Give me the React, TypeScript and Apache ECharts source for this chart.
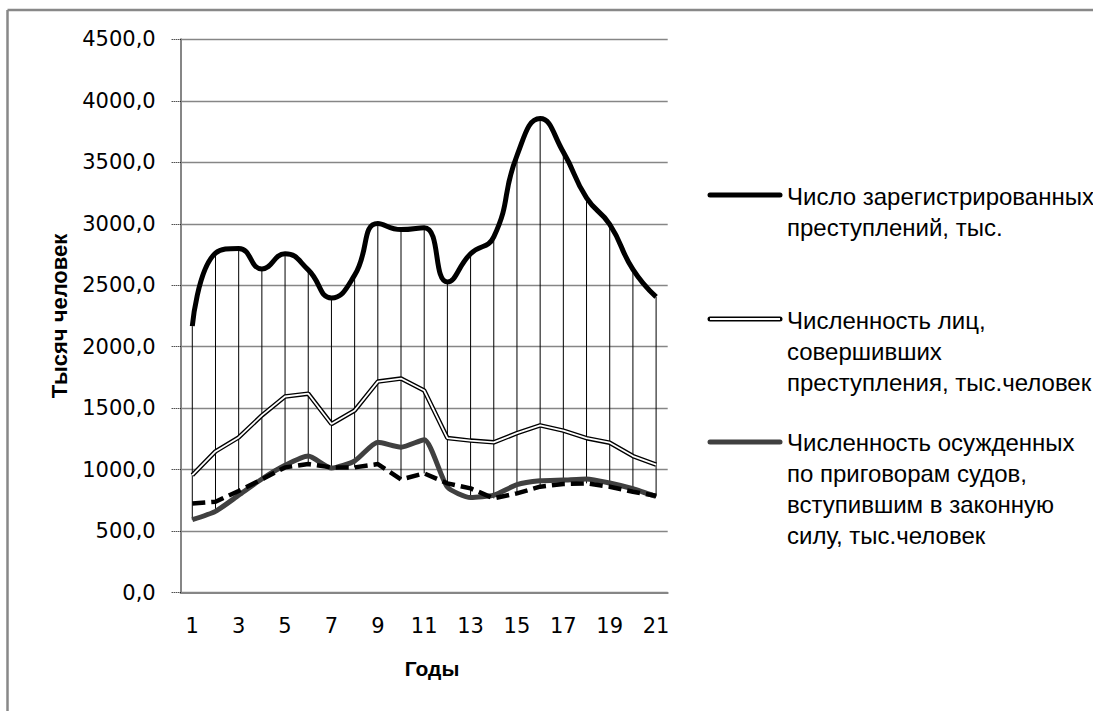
import React, { useEffect, useRef } from "react";
import * as echarts from "echarts";

const categories = ["1","2","3","4","5","6","7","8","9","10","11","12","13","14","15","16","17","18","19","20","21"];

const registeredCrimes = [2167.6, 2760.7, 2799.6, 2632.7, 2755.7, 2625.1, 2397.3, 2581.9, 3001.7, 2952.4, 2968.3, 2526.3, 2756.4, 2893.8, 3554.7, 3855.4, 3582.5, 3209.9, 2994.8, 2628.8, 2404.8];
const personsCommitted = [956.3, 1148.9, 1262.7, 1441.6, 1595.5, 1618.4, 1372.2, 1481.5, 1716.7, 1741.4, 1644.2, 1257.7, 1236.7, 1222.5, 1297.1, 1360.9, 1317.6, 1256.2, 1219.8, 1111.1, 1041.3];
const convicted = [593.8, 661.4, 792.4, 924.6, 1035.8, 1111.1, 1013.4, 1071.1, 1223.3, 1183.6, 1244.2, 859.3, 773.9, 793.9, 878.9, 909.9, 916.3, 925.2, 892.3, 845.1, 782.3];
const dashedSeries = [726, 740, 827, 921, 1019, 1046, 1019, 1019, 1046, 921, 970, 889, 848, 767, 808, 862, 884, 889, 862, 821, 789];

const legendNames = [
  "Число зарегистрированных\nпреступлений, тыс.",
  "Численность лиц,\nсовершивших\nпреступления, тыс.человек",
  "Численность осужденных\nпо приговорам судов,\nвступившим в законную\nсилу, тыс.человек",
];

export default function App() {
  const ref = useRef<HTMLDivElement>(null);
  useEffect(() => {
    if (!ref.current) return;
    const chart = echarts.init(ref.current, null, { renderer: "svg" });
    const all = [registeredCrimes, personsCommitted, convicted, dashedSeries];
    const hiLo = categories.map((_, i) => {
      const vals = all.map((a) => a[i]);
      return [i, Math.min(...vals), Math.max(...vals)];
    });
    const axisFont = { fontFamily: "DejaVu Sans", fontSize: 21, color: "#000" };
    const legendFont = "24px 'Liberation Sans', sans-serif";
    const legendX1 = 710, legendX2 = 780, textX = 787;
    const legendRows = [
      { iconY: 195, top: 181, kind: "black" },
      { iconY: 319, top: 305, kind: "double" },
      { iconY: 442, top: 427, kind: "gray" },
    ];
    const graphics: any[] = [
      {
        type: "line",
        shape: { x1: 7.5, y1: 10, x2: 7.5, y2: 711 },
        style: { stroke: "#888888", lineWidth: 2.5 },
        silent: true,
      },
      {
        type: "line",
        shape: { x1: 7.5, y1: 10, x2: 1093, y2: 10 },
        style: { stroke: "#888888", lineWidth: 2.5 },
        silent: true,
      },
      {
        type: "text",
        x: 59,
        y: 316,
        rotation: Math.PI / 2,
        style: {
          text: "Тысяч человек",
          font: "bold 22px 'Liberation Sans', sans-serif",
          fill: "#000",
          align: "center",
          verticalAlign: "middle",
        },
      },
      {
        type: "text",
        x: 432,
        y: 668,
        style: {
          text: "Годы",
          font: "bold 21px 'Liberation Sans', sans-serif",
          fill: "#000",
          align: "center",
          verticalAlign: "middle",
        },
      },
    ];
    legendRows.forEach((r, i) => {
      if (r.kind === "double") {
        graphics.push({
          type: "line",
          shape: { x1: legendX1, y1: r.iconY, x2: legendX2, y2: r.iconY },
          style: { stroke: "#000", lineWidth: 5, lineCap: "round" },
        });
        graphics.push({
          type: "line",
          shape: { x1: legendX1, y1: r.iconY, x2: legendX2, y2: r.iconY },
          style: { stroke: "#fff", lineWidth: 2 },
        });
      } else {
        graphics.push({
          type: "line",
          shape: { x1: legendX1, y1: r.iconY, x2: legendX2, y2: r.iconY },
          style: { stroke: r.kind === "black" ? "#000" : "#404040", lineWidth: 5, lineCap: "round" },
        });
      }
      graphics.push({
        type: "text",
        x: textX,
        y: r.top,
        style: {
          text: legendNames[i],
          font: legendFont,
          fill: "#000",
          lineHeight: 31,
          verticalAlign: "top",
          align: "left",
        },
      });
    });

    chart.setOption({
      animation: false,
      backgroundColor: "#fff",
      grid: { left: 180.7, right: 425.3, top: 39.3, bottom: 118.3, containLabel: false },
      xAxis: {
        type: "category",
        data: categories,
        boundaryGap: true,
        axisLine: { lineStyle: { color: "#868686", width: 2 } },
        axisTick: { show: false },
        axisLabel: { ...axisFont, interval: 1, margin: 23 },
        splitLine: { show: false },
      },
      yAxis: {
        type: "value",
        min: 0,
        max: 4500,
        interval: 500,
        axisLine: { show: true, lineStyle: { color: "#868686", width: 2 } },
        axisTick: { show: true, length: 9, lineStyle: { color: "#000", type: "dotted", width: 1 } },
        axisLabel: {
          ...axisFont,
          margin: 25,
          formatter: (v: number) => v.toFixed(1).replace(".", ","),
        },
        splitLine: { show: true, lineStyle: { color: "#868686", width: 1.3 } },
      },
      graphic: graphics,
      series: [
        {
          type: "custom",
          z: 1,
          silent: true,
          data: hiLo,
          renderItem: (params: any, api: any) => {
            const p1 = api.coord([api.value(0), api.value(1)]);
            const p2 = api.coord([api.value(0), api.value(2)]);
            return {
              type: "line",
              shape: { x1: p1[0], y1: p1[1], x2: p2[0], y2: p2[1] },
              style: { stroke: "#000", lineWidth: 1 },
            };
          },
        },
        {
          name: legendNames[0],
          type: "line",
          z: 3,
          data: registeredCrimes,
          smooth: 0.5,
          symbol: "none",
          lineStyle: { color: "#000", width: 5 },
        },
        {
          name: legendNames[1],
          type: "line",
          z: 3,
          data: personsCommitted,
          symbol: "none",
          lineStyle: { color: "#000", width: 4.5 },
        },
        {
          name: legendNames[1] + " inner",
          type: "line",
          z: 4,
          data: personsCommitted,
          symbol: "none",
          lineStyle: { color: "#fff", width: 1.8 },
        },
        {
          name: legendNames[2],
          type: "line",
          z: 5,
          data: convicted,
          smooth: 0.2,
          symbol: "none",
          lineStyle: { color: "#404040", width: 5 },
        },
        {
          name: "dashed",
          type: "line",
          z: 6,
          data: dashedSeries,
          symbol: "none",
          lineStyle: { color: "#000", width: 4.5, type: [13, 6] },
        },
      ],
    });
    return () => chart.dispose();
  }, []);
  return (
    <div
      ref={ref}
      style={{ position: "absolute", left: 0, top: 0, width: 1093, height: 711 }}
    />
  );
}
